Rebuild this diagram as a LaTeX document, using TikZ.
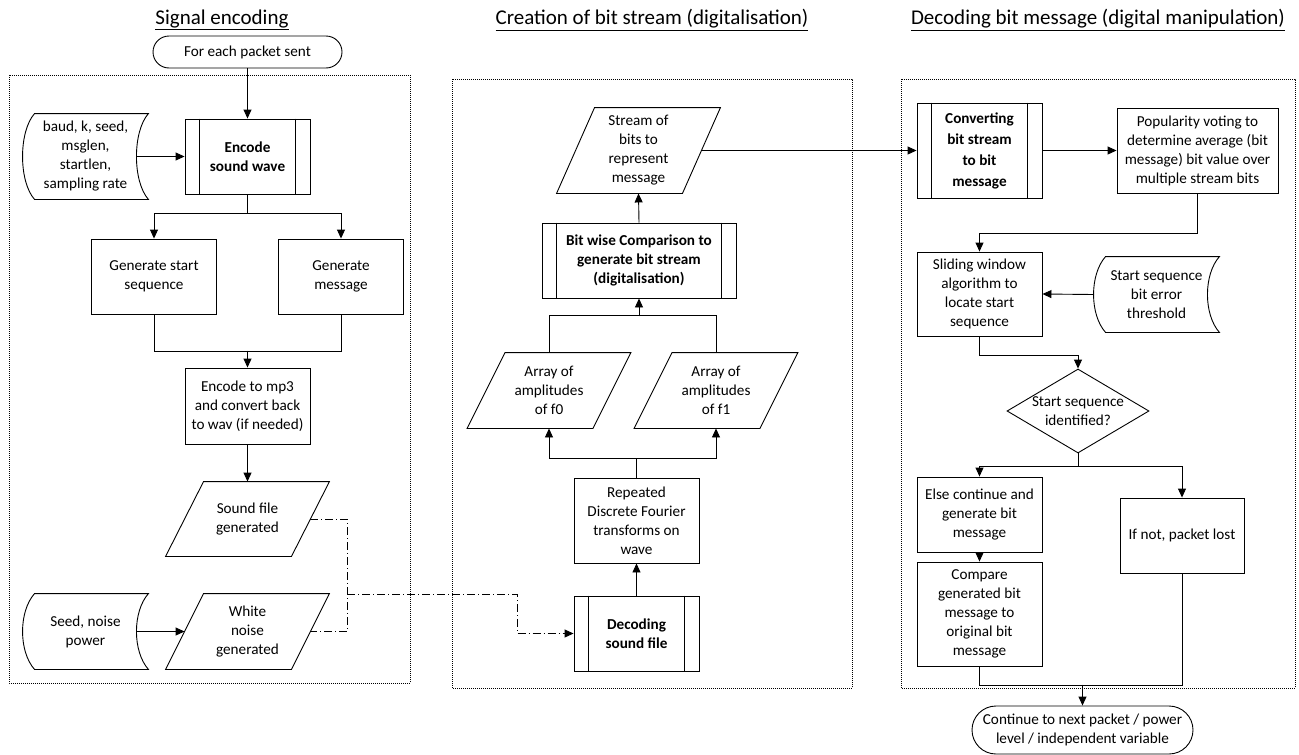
\documentclass[tikz,border=0pt]{standalone}
\usepackage{fontspec}
\setmainfont{Carlito}
\usetikzlibrary{arrows.meta,shapes.geometric,shapes.misc}

\tikzset{
  txt/.style={font=\fontsize{15.2}{19}\selectfont, align=center, inner sep=2pt},
  procbox/.style={txt, draw, rectangle, minimum width=125pt, minimum height=75pt},
  subproc/.style={procbox, font=\fontsize{15.2}{19}\selectfont\bfseries},
  dataio/.style={txt, rectangle, minimum width=125pt, minimum height=75pt},
  stored/.style={txt, rectangle, minimum width=125pt, minimum height=75pt},
  term/.style={txt, draw, rounded rectangle, minimum width=193pt, minimum height=32pt},
  decision/.style={draw, diamond, minimum width=142pt, minimum height=84pt, inner sep=0pt},
  heading/.style={font=\fontsize{21}{24}\selectfont},
  grp/.style={line width=0.8pt, dash pattern=on 0.8pt off 1.2pt},
  flow/.style={dash pattern=on 8pt off 3pt on 1pt off 3pt}
}

\begin{document}
\begin{tikzpicture}[x=1pt, y=-1pt, line width=0.9pt, >={Triangle[length=9pt,width=8pt]}]
\useasboundingbox (0,0) rectangle (1299,755);

\node[heading] (t1) at (222,20) {\underline{Signal encoding}};
\node[heading] (t2) at (652,20) {\underline{Creation of bit stream (digitalisation)}};
\node[heading] (t3) at (1098,20) {\underline{Decoding bit message (digital manipulation)}};

\draw[grp] (9,75) rectangle (410,683);
\draw[grp] (452,79) rectangle (852,688);
\draw[grp] (901,79) rectangle (1295,688);

\node[term] (start) at (247.5,52) {For each packet sent};
\node[subproc] (enc) at (247.5,156.5) {Encode\\sound wave};
\node[stored, minimum height=85pt] (par) at (85.5,156.5) {baud, k, seed,\\msglen,\\startlen,\\sampling rate};
\node[procbox] (gss) at (154,276.5) {Generate start\\sequence};
\node[procbox] (gm) at (341,276.5) {Generate\\message};
\node[procbox, minimum height=76pt] (mp3) at (247.5,406) {Encode to mp3\\and convert back\\to wav (if needed)};
\node[dataio, minimum height=74pt] (snd) at (247.5,519) {Sound file\\generated};
\node[dataio] (wn) at (247.5,631.5) {White\\noise\\generated};
\node[stored] (seedn) at (85.5,631.5) {Seed, noise\\power};
\coordinate (fj) at (347,594);

\node[dataio, minimum height=85pt] (bits) at (638.5,150.5) {Stream of\\bits to\\represent\\message};
\node[subproc, minimum width=194pt] (bitcmp) at (639,260.5) {Bit wise Comparison to\\generate bit stream\\(digitalisation)};
\node[dataio] (af0) at (549,390.5) {Array of\\amplitudes\\of f0};
\node[dataio] (af1) at (716,390.5) {Array of\\amplitudes\\of f1};
\node[procbox, minimum height=85pt] (dft) at (636.5,520.5) {Repeated\\Discrete Fourier\\transforms on\\wave};
\node[subproc] (dec) at (636.5,633.5) {Decoding\\sound file};

\node[subproc, minimum height=95pt, font=\fontsize{15.2}{21}\selectfont\bfseries] (conv) at (979.5,150.5) {Converting\\bit stream\\to bit\\message};
\node[procbox, minimum width=161pt, minimum height=85pt] (pop) at (1197.5,150.5) {Popularity voting to\\determine average (bit\\message) bit value over\\multiple stream bits};
\node[procbox, minimum height=84pt] (slide) at (979.5,294) {Sliding window\\algorithm to\\locate start\\sequence};
\node[stored] (thr) at (1156.5,294.5) {Start sequence\\bit error\\threshold};
\node[decision] (dcs) at (1078,411) {};
\node[txt] (dcstxt) at (dcs) {Start sequence\\identified?};
\node[procbox] (els) at (979.5,514.5) {Else continue and\\generate bit\\message};
\node[procbox, minimum height=104pt] (cmp) at (979.5,614) {Compare\\generated bit\\message to\\original bit\\message};
\node[procbox, minimum width=124pt] (lost) at (1182,535.5) {If not, packet lost};
\node[term, minimum width=225pt, minimum height=48pt] (next) at (1082.5,730) {Continue to next packet / power\\level / independent variable};

\foreach \n in {enc,bitcmp,dec,conv}
\draw ([xshift=15pt]\n.north west) -- ([xshift=15pt]\n.south west)
  ([xshift=-15pt]\n.north east) -- ([xshift=-15pt]\n.south east);
\foreach \n in {snd,wn,bits,af0,af1}
\draw ([xshift=19pt]\n.north west) -- ([xshift=19pt]\n.north east)
  -- ([xshift=-19pt]\n.south east) -- ([xshift=-19pt]\n.south west) -- cycle;
\foreach \n in {par,seedn,thr}
\draw ([xshift=12pt]\n.north west) -- (\n.north east)
  .. controls ([xshift=-16pt,yshift=-18pt]\n.north east) and ([xshift=-16pt,yshift=18pt]\n.south east) .. (\n.south east)
  -- ([xshift=12pt]\n.south west)
  .. controls ([xshift=-4pt,yshift=18pt]\n.south west) and ([xshift=-4pt,yshift=-18pt]\n.north west) .. cycle;

\draw[->] (start.south) -- (enc.north);
\draw[->] ([xshift=-12pt]par.east) -- (enc.west);
\draw[->] (enc.south) -- ++(0,19) -| (gss.north);
\draw[->] (enc.south) -- ++(0,19) -| (gm.north);
\draw (gss.south) -- ++(0,37) -| (gm.south);
\draw[->] ([yshift=17pt]mp3.north) -- (mp3.north);
\draw[->] (mp3.south) -- (snd.north);
\draw[->] ([xshift=-12pt]seedn.east) -- (wn.west);
\draw[flow] (snd.east) -- ++(37,0) |- (wn.east);
\draw[flow,->] (fj) -- ++(170,0) |- (dec.west);

\draw[->] (dec.north) -- (dft.south);
\draw[->] (dft.north) -- ++(0,-19) -| (af0.south);
\draw[->] (dft.north) -- ++(0,-19) -| (af1.south);
\draw (af0.north) -- ++(0,-37) -| (af1.north);
\draw[->] ([yshift=-18pt]bitcmp.south) -- (bitcmp.south);
\draw[->] (bitcmp.north) -- (bits.south);
\draw[->] (bits.east) -- (conv.west);

\draw[->] (conv.east) -- (pop.west);
\draw[->] (pop.south) -- ++(0,40) -| (slide.north);
\draw[->] (thr.west) -- (slide.east);
\draw[->] (slide.south) -- ++(0,19) -| (dcs.north);
\draw[->] (dcs.south) -- ++(0,13) -| (els.north);
\draw[->] (dcs.south) -- ++(0,13) -| (lost.north);
\draw[->] (els.south) -- (cmp.north);
\draw (cmp.south) -- ++(0,19) -| (lost.south);
\draw[->] ([yshift=21pt]next.north) -- (next.north);
\end{tikzpicture}
\end{document}
